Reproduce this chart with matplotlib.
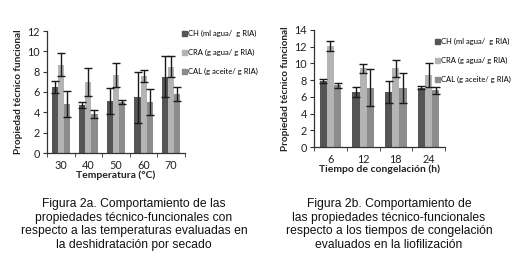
import numpy as np
import matplotlib.pyplot as plt
from matplotlib.patches import Patch

# --- data ---
series = ["CH (ml agua/  g RIA)", "CRA (g agua/ g RIA)", "CAL (g aceite/ g RIA)"]
colors = ["#555555", "#b4b4b4", "#8c8c8c"]

tempCats = ["30", "40", "50", "60", "70"]
tempCH = [6.5, 4.7, 5.1, 5.5, 7.5]
tempCHerr = [0.6, 0.3, 1.3, 2.5, 2.0]
tempCRA = [8.7, 7.0, 7.7, 7.6, 8.5]
tempCRAerr = [1.1, 1.4, 1.2, 0.6, 1.0]
tempCAL = [4.8, 3.8, 5.0, 5.0, 5.8]
tempCALerr = [1.3, 0.4, 0.2, 1.3, 0.7]

timeCats = ["6", "12", "18", "24"]
timeCH = [7.9, 6.6, 6.6, 7.1]
timeCHerr = [0.2, 0.6, 1.3, 0.2]
timeCRA = [12.1, 9.4, 9.4, 8.6]
timeCRAerr = [0.6, 0.5, 1.0, 1.4]
timeCAL = [7.4, 7.1, 7.1, 6.8]
timeCALerr = [0.3, 2.2, 1.8, 0.4]

capLeft = ("Figura 2a. Comportamiento de las\n"
           "propiedades técnico-funcionales con\n"
           "respecto a las temperaturas evaluadas en\n"
           "la deshidratación por secado")
capRight = ("Figura 2b. Comportamiento de\n"
            "las propiedades técnico-funcionales\n"
            "respecto a los tiempos de congelación\n"
            "evaluados en la liofilización")

W, H = 512, 265
fig = plt.figure(figsize=(W / 100, H / 100), dpi=100)
fig.patch.set_facecolor("white")

axFont = "Lato"


def px(x0, y0, x1, y1):
    # pixel box (top-left origin) -> figure fraction
    return [x0 / W, 1 - y1 / H, (x1 - x0) / W, (y1 - y0) / H]


def drawPanel(box, cats, vals, errs, ymax, xlabel, legPos):
    ax = fig.add_axes(px(*box))
    x = np.arange(len(cats))
    bw = 0.22
    for i in range(3):
        ax.bar(x + (i - 1) * bw, vals[i], bw, color=colors[i], label=series[i],
               yerr=errs[i], error_kw=dict(ecolor="#1a1a1a", elinewidth=1.0,
                                           capsize=3, capthick=1.0))
    ax.set_xlim(-0.5, len(cats) - 0.5)
    ax.set_ylim(0, ymax)
    ax.set_yticks(np.arange(0, ymax + 1, 2))
    ax.set_xticks(x)
    ax.set_xticklabels(cats)
    ax.set_xticks(np.arange(len(cats) + 1) - 0.5, minor=True)
    ax.tick_params(axis="x", which="major", length=0, pad=5)
    ax.tick_params(axis="x", which="minor", length=3, direction="out", color="#333333")
    ax.tick_params(axis="y", length=3, direction="out", color="#333333", pad=2)
    for lab in ax.get_xticklabels() + ax.get_yticklabels():
        lab.set_fontfamily(axFont)
        lab.set_fontsize(7.8)
        lab.set_color("#222222")
    for s in ("top", "right"):
        ax.spines[s].set_visible(False)
    for s in ("left", "bottom"):
        ax.spines[s].set_color("#333333")
        ax.spines[s].set_linewidth(0.9)
    ax.set_xlabel(xlabel, fontfamily=axFont, fontweight="bold", fontsize=7.5,
                  labelpad=0, color="#222222")
    ax.set_ylabel("Propiedad técnico funcional", fontfamily=axFont,
                  fontweight="bold", fontsize=7.2, labelpad=3, color="#222222")
    handles = [Patch(color=c) for c in colors]
    fig.legend(handles, series, loc="upper left",
               bbox_to_anchor=(legPos[0] / W, 1 - legPos[1] / H),
               frameon=False, prop=dict(family=axFont, size=5.5),
               handlelength=0.7, handleheight=0.7, handletextpad=0.1,
               labelspacing=1.55, borderpad=0, borderaxespad=0)
    return ax


drawPanel((47, 31, 185, 153), tempCats, [tempCH, tempCRA, tempCAL],
          [tempCHerr, tempCRAerr, tempCALerr], 12, "Temperatura (°C)", (182, 30))
drawPanel((314, 30, 445, 147), timeCats, [timeCH, timeCRA, timeCAL],
          [timeCHerr, timeCRAerr, timeCALerr], 14, "Tiempo de congelación (h)", (435, 38))

fig.text(134 / W, 1 - 198 / H, capLeft, ha="center", va="top",
         family="Liberation Sans", fontsize=8.7, linespacing=1.18, color="#111111")
fig.text(389 / W, 1 - 198 / H, capRight, ha="center", va="top",
         family="Liberation Sans", fontsize=8.7, linespacing=1.18, color="#111111")

fig.savefig("out.png", dpi=100)
